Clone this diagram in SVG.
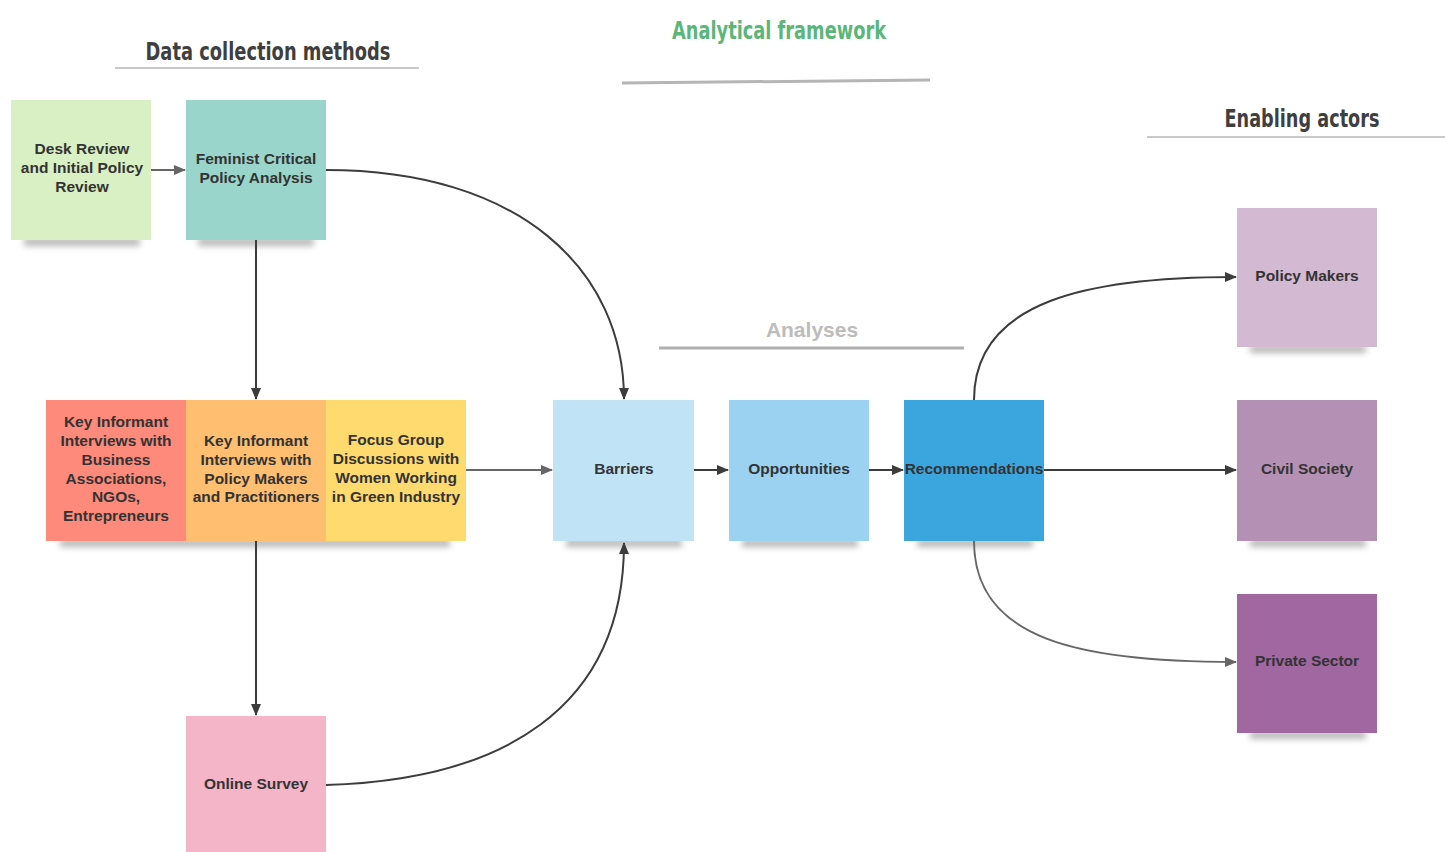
<svg xmlns="http://www.w3.org/2000/svg" width="1445" height="852" viewBox="0 0 1445 852">
<defs>
<filter id="blur" x="-20%" y="-200%" width="140%" height="500%"><feGaussianBlur stdDeviation="3"/></filter>
<marker id="ah" viewBox="0 0 12 10" refX="11" refY="5" markerWidth="12" markerHeight="10" markerUnits="userSpaceOnUse" orient="auto"><path d="M0,0 L12,5 L0,10 z" fill="#3c3c3c"/></marker>
<marker id="ahg" viewBox="0 0 12 10" refX="11" refY="5" markerWidth="12" markerHeight="10" markerUnits="userSpaceOnUse" orient="auto"><path d="M0,0 L12,5 L0,10 z" fill="#666"/></marker>
</defs>
<style>
.hdr{font-family:"DejaVu Sans Condensed","Liberation Sans",sans-serif;font-weight:bold;font-size:25px;fill:#3f3f3f;text-anchor:middle}
.ul{stroke:#c8c8c8;stroke-width:2;fill:none}
.box{stroke:none}
.sh{fill:#000;opacity:0.28;filter:url(#blur)}
.t{font-family:"Liberation Sans",Arial,sans-serif;font-weight:bold;font-size:15.5px;fill:#333;text-anchor:middle}
.c{stroke:#3c3c3c;stroke-width:2;fill:none;marker-end:url(#ah)}
.cg{stroke:#666;stroke-width:2;fill:none;marker-end:url(#ahg)}
</style>
<rect width="1445" height="852" fill="#fff"/>

<g id="headers">
<text class="hdr" x="268" y="60" textLength="245" lengthAdjust="spacingAndGlyphs">Data collection methods</text>
<line class="ul" x1="115" y1="68" x2="419" y2="68"/>
<text class="hdr" x="779" y="39" textLength="214" lengthAdjust="spacingAndGlyphs" style="fill:#5bb67a">Analytical framework</text>
<path d="M622,83 L930,80" stroke="#b5b5b5" stroke-width="3" fill="none"/>
<text class="hdr" x="1302" y="127" textLength="155" lengthAdjust="spacingAndGlyphs">Enabling actors</text>
<line class="ul" x1="1147" y1="137" x2="1445" y2="137"/>
<text x="812" y="337" style="font-family:'Liberation Sans',Arial,sans-serif;font-weight:bold;font-size:21px;fill:#bcbcbc;text-anchor:middle">Analyses</text>
<line x1="659" y1="348" x2="964" y2="348" stroke="#b0b0b0" stroke-width="3"/>
</g>

<g id="shadows">
<rect class="sh" x="24" y="238" width="116" height="8"/>
<rect class="sh" x="198" y="238" width="116" height="8"/>
<rect class="sh" x="60" y="539" width="390" height="8"/>
<rect class="sh" x="566" y="539" width="116" height="8"/>
<rect class="sh" x="742" y="539" width="116" height="8"/>
<rect class="sh" x="917" y="539" width="116" height="8"/>
<rect class="sh" x="1250" y="345" width="116" height="8"/>
<rect class="sh" x="1250" y="539" width="116" height="8"/>
<rect class="sh" x="1250" y="731" width="116" height="8"/>
</g>

<g id="desk-review">
<rect class="box" x="11" y="100" width="140" height="140" fill="#d9f0c4"/>
<text class="t" x="82" y="154">Desk Review</text>
<text class="t" x="82" y="173">and Initial Policy</text>
<text class="t" x="82" y="192">Review</text>
</g>
<g id="feminist-analysis">
<rect class="box" x="186" y="100" width="140" height="140" fill="#99d5ca"/>
<text class="t" x="256" y="164">Feminist Critical</text>
<text class="t" x="256" y="183">Policy Analysis</text>
</g>
<g id="kii-business">
<rect class="box" x="46" y="400" width="140" height="141" fill="#fe8a7b"/>
<text class="t" x="116" y="427">Key Informant</text>
<text class="t" x="116" y="446">Interviews with</text>
<text class="t" x="116" y="465">Business</text>
<text class="t" x="116" y="484">Associations,</text>
<text class="t" x="116" y="502">NGOs,</text>
<text class="t" x="116" y="521">Entrepreneurs</text>
</g>
<g id="kii-policy">
<rect class="box" x="186" y="400" width="140" height="141" fill="#ffbe70"/>
<text class="t" x="256" y="446">Key Informant</text>
<text class="t" x="256" y="465">Interviews with</text>
<text class="t" x="256" y="484">Policy Makers</text>
<text class="t" x="256" y="502">and Practitioners</text>
</g>
<g id="fgd">
<rect class="box" x="326" y="400" width="140" height="141" fill="#ffda6e"/>
<text class="t" x="396" y="445">Focus Group</text>
<text class="t" x="396" y="464">Discussions with</text>
<text class="t" x="396" y="483">Women Working</text>
<text class="t" x="396" y="502">in Green Industry</text>
</g>
<g id="online-survey">
<rect class="box" x="186" y="716" width="140" height="140" fill="#f4b5c8"/>
<text class="t" x="256" y="789">Online Survey</text>
</g>
<g id="barriers">
<rect class="box" x="553" y="400" width="141" height="141" fill="#c0e4f6" stroke="#b0d6ea" stroke-width="1"/>
<text class="t" x="624" y="474">Barriers</text>
</g>
<g id="opportunities">
<rect class="box" x="729" y="400" width="140" height="141" fill="#9bd2f2"/>
<text class="t" x="799" y="474">Opportunities</text>
</g>
<g id="recommendations">
<rect class="box" x="904" y="400" width="140" height="141" fill="#3ba5dd"/>
<text class="t" x="974" y="474">Recommendations</text>
</g>
<g id="policy-makers">
<rect class="box" x="1237" y="208" width="140" height="139" fill="#d3b9d2"/>
<text class="t" x="1307" y="281">Policy Makers</text>
</g>
<g id="civil-society">
<rect class="box" x="1237" y="400" width="140" height="141" fill="#b491b4"/>
<text class="t" x="1307" y="474">Civil Society</text>
</g>
<g id="private-sector">
<rect class="box" x="1237" y="594" width="140" height="139" fill="#a067a0"/>
<text class="t" x="1307" y="666">Private Sector</text>
</g>

<g id="connectors">
<line class="cg" x1="151" y1="170" x2="185" y2="170"/>
<line class="c" x1="256" y1="240" x2="256" y2="399"/>
<path class="c" d="M326,170 C520,170 624,270 624,399"/>
<line class="cg" x1="466" y1="470" x2="552" y2="470"/>
<line class="c" x1="694" y1="470" x2="728" y2="470"/>
<line class="c" x1="869" y1="470" x2="903" y2="470"/>
<line class="c" x1="1044" y1="470" x2="1236" y2="470"/>
<path class="c" d="M974,400 C974,300 1090,277 1236,277"/>
<path class="cg" d="M974,541 C974,640 1080,662 1236,662"/>
<line class="c" x1="256" y1="541" x2="256" y2="715"/>
<path class="c" d="M326,785 C500,780 624,710 624,543"/>
</g>
</svg>
